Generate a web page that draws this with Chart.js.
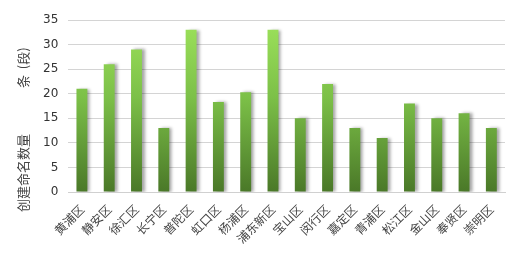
<!DOCTYPE html>
<html lang="zh">
<head>
  <meta charset="UTF-8" />
  <title>创建命名数量</title>
  <script src="https://cdn.jsdelivr.net/npm/chart.js"></script>
  <style>
    html, body { margin: 0; padding: 0; background: #fff; }
    #wrap { width: 516px; height: 258px; }
  </style>
</head>
<body>
  <div id="wrap"><canvas id="chart" width="516" height="258"></canvas></div>

  <script>
    const districts = ["黄浦区", "静安区", "徐汇区", "长宁区", "普陀区", "虹口区", "杨浦区", "浦东新区",
                       "宝山区", "闵行区", "嘉定区", "青浦区", "松江区", "金山区", "奉贤区", "崇明区"];
    const counts = [21, 26, 29, 13, 33, 18.3, 20.3, 33, 15, 22, 13, 11, 18, 15, 16, 13];
    const yTicks = [0, 5, 10, 15, 20, 25, 30, 35];
    const yTitle = ["创建命名数量", "条  (段)"];

    const shadow = {
      id: "shadow",
      beforeDatasetsDraw(chart) {
        const ctx = chart.ctx;
        ctx.save();
        ctx.shadowColor = "rgba(0,0,0,0.35)";
        ctx.shadowOffsetX = 3;
        ctx.shadowOffsetY = 0;
        ctx.shadowBlur = 3;
      },
      afterDatasetsDraw(chart) {
        chart.ctx.restore();
      }
    };

    // y axis title, drawn in two pieces like the original
    const sideTitle = {
      id: "sideTitle",
      afterDraw(chart) {
        const ctx = chart.ctx;
        ctx.save();
        ctx.fillStyle = "#444";
        ctx.font = "13px 'Noto Sans CJK SC'";
        ctx.textAlign = "left";
        ctx.textBaseline = "middle";
        [[212, yTitle[0]], [88, yTitle[1]]].forEach(([y, t]) => {
          ctx.save();
          ctx.translate(23, y);
          ctx.rotate(-Math.PI / 2);
          ctx.fillText(t, 0, 0);
          ctx.restore();
        });
        ctx.restore();
      }
    };

    function barFill(context) {
      const area = context.chart.chartArea;
      if (!area) return "#7cbf45";
      const g = context.chart.ctx.createLinearGradient(0, area.top, 0, area.bottom);
      g.addColorStop(0, "#9de25b");
      g.addColorStop(0.45, "#7cc048");
      g.addColorStop(1, "#4a7828");
      return g;
    }

    new Chart(document.getElementById("chart"), {
      type: "bar",
      data: {
        labels: districts,
        datasets: [{
          data: counts,
          backgroundColor: barFill,
          barPercentage: 0.8,
          categoryPercentage: 0.5
        }]
      },
      options: {
        responsive: false,
        animation: false,
        layout: { padding: { top: 20, right: 11, left: 33 } },
        plugins: {
          legend: { display: false },
          tooltip: { enabled: false }
        },
        scales: {
          x: {
            afterFit(scale) { scale.height = 66; },
            grid: { display: false },
            border: { color: "#d0d0d0" },
            ticks: {
              color: "#444",
              font: { family: "Noto Sans CJK SC", size: 12 },
              autoSkip: false,
              minRotation: 45,
              maxRotation: 45,
              padding: 2
            }
          },
          y: {
            min: 0,
            max: 35,
            afterBuildTicks(axis) { axis.ticks = yTicks.map(v => ({ value: v })); },
            grid: { color: "#d4d4d4", drawTicks: false },
            border: { display: false },
            ticks: {
              color: "#333",
              font: { family: "DejaVu Sans", size: 12 },
              padding: 10
            }
          }
        }
      },
      plugins: [shadow, sideTitle]
    });
  </script>
</body>
</html>
